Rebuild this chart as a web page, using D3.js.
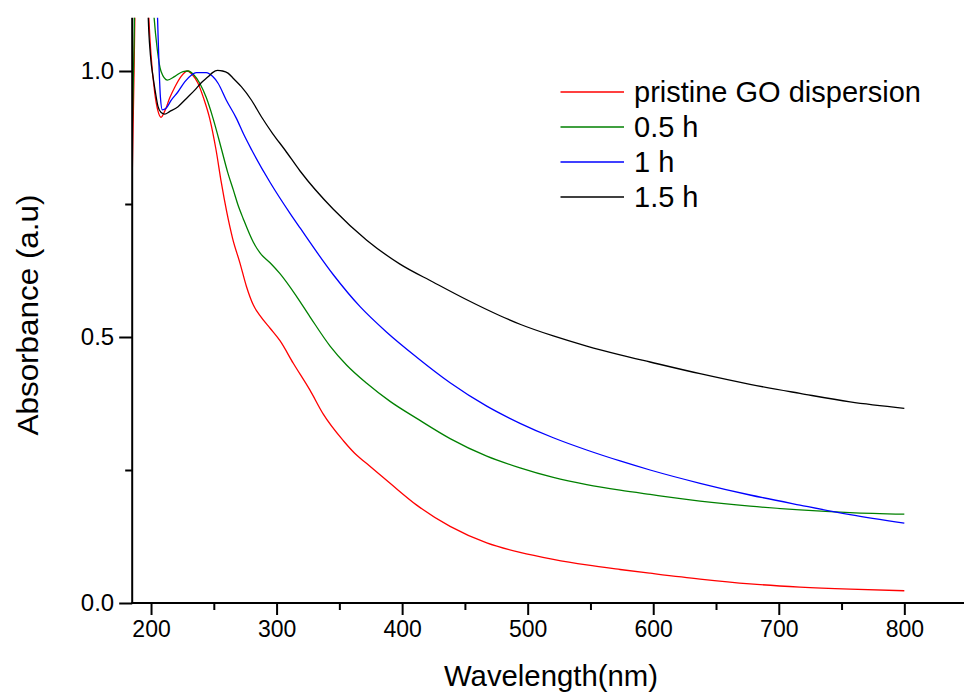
<!DOCTYPE html>
<html>
<head>
<meta charset="utf-8">
<script src="https://cdn.jsdelivr.net/npm/d3@7"></script>
<style>
  html, body { margin: 0; padding: 0; background: #fff; }
  svg { display: block; font-family: Arial, "Liberation Sans", sans-serif; }
</style>
</head>
<body>
<svg id="chart" width="964" height="693"></svg>
<script>
// UV-vis absorbance spectra of GO dispersions, wavelength (nm) vs absorbance (a.u.)
const seriesNames = ["pristine GO dispersion", "0.5 h", "1 h", "1.5 h"];
const seriesColors = ["#ff0000", "#008000", "#0000ff", "#000000"];

const pristineGO = [
  [185,0.80],[186.5,1.0],[188,1.25],[190,1.4],[195,1.4],[198,1.115],[200,1.03],[203,0.958],
  [205.5,0.925],[208,0.913],[211,0.925],[215,0.95],[219,0.97],[224,0.99],[229,1.0],[233,0.993],
  [237.4,0.977],[242,0.948],[246.7,0.911],[251.8,0.8515],[256,0.79],[260.3,0.735],[265,0.685],
  [270.9,0.6385],[276,0.595],[281.5,0.560],[286.8,0.540],[295,0.516],[302.7,0.493],[313.3,0.4506],
  [326.6,0.400],[337.2,0.355],[353.2,0.305],[362,0.282],[371.8,0.262],[390.4,0.225],
  [411.6,0.184],[438.2,0.144],[467.4,0.113],[493.9,0.095],[520.4,0.082],[547,0.0715],
  [573.6,0.063],[597.5,0.056],[637.3,0.045],[677.1,0.036],[716.9,0.030],[756.8,0.026],[800,0.023]
];

const halfHour = [
  [185,0.885],[186.5,1.05],[188,1.3],[191,1.4],[196,1.38],[200,1.2],[202,1.115],[205,1.04],
  [208,0.999],[213,0.983],[219,0.99],[225.5,0.999],[229.5,1.0],[234,0.993],[238.8,0.977],
  [244,0.95],[249.4,0.911],[256.3,0.8515],[261,0.81],[265.6,0.776],[269,0.75],[273.5,0.722],
  [281.5,0.678],[286.8,0.658],[295,0.639],[302.7,0.619],[316,0.576],[326.6,0.538],
  [342.6,0.483],[355.9,0.447],[371.8,0.413],[390.4,0.379],[411.6,0.347],[438.2,0.309],
  [467.4,0.276],[493.9,0.254],[520.4,0.236],[547,0.2225],[573.6,0.212],[597.5,0.204],
  [637.3,0.1915],[677.1,0.182],[716.9,0.175],[756.8,0.170],[800,0.167]
];

const oneHour = [
  [185,1.4],[200,1.4],[203,1.25],[205,1.115],[206.5,1.0],[207.5,0.95],[209,0.927],[212,0.93],
  [216,0.945],[221.5,0.961],[227,0.98],[232,0.992],[236,0.997],[244,0.997],[249,0.99],
  [253.4,0.977],[260,0.945],[268,0.911],[274,0.88],[280.2,0.8515],[295,0.79],[310.7,0.7325],
  [318.7,0.705],[345.2,0.617],[366.5,0.557],[387.7,0.509],[411.6,0.462],[438.2,0.414],
  [467.4,0.370],[493.9,0.3378],[520.4,0.3106],[547,0.2876],[573.6,0.267],[597.5,0.250],
  [637.3,0.225],[677.1,0.203],[716.9,0.184],[756.8,0.166],[800,0.150]
];

const oneAndHalfHour = [
  [185,1.4],[196,1.4],[197.6,1.115],[199.5,1.03],[201.6,0.989],[203.5,0.96],[205.6,0.933],
  [208,0.922],[210.9,0.919],[215,0.924],[221.5,0.933],[228,0.948],[234.8,0.964],[240,0.978],
  [245.4,0.989],[249,0.997],[253,1.001],[257,1.0],[261.3,0.996],[266,0.985],[271.9,0.9705],
  [279.9,0.9455],[287.9,0.914],[297,0.882],[306.7,0.8515],[318.7,0.812],[345.2,0.740],
  [371.8,0.682],[398.3,0.637],[424.9,0.603],[451.5,0.570],[478,0.540],[493.9,0.524],
  [520.4,0.502],[547,0.483],[573.6,0.4665],[597.5,0.453],[637.3,0.431],[677.1,0.411],
  [716.9,0.394],[756.8,0.378],[800,0.366]
];

const xMajorTicks = [200, 300, 400, 500, 600, 700, 800];
const xMinorTicks = [250, 350, 450, 550, 650, 750];
const yMajorTicks = [0.0, 0.5, 1.0];
const yMinorTicks = [0.25, 0.75];

const allSeries = [pristineGO, halfHour, oneHour, oneAndHalfHour];

const svg = d3.select("#chart");

const x = d3.scaleLinear().domain([185, 850]).range([132.2, 967.1]);
const y = d3.scaleLinear().domain([0, 1.1]).range([603, 17.8]);

// clip curves to the plotting area
svg.append("defs").append("clipPath").attr("id", "plotClip")
  .append("rect")
  .attr("x", x(185)).attr("y", y(1.1))
  .attr("width", 964 - x(185)).attr("height", y(0) - y(1.1));

const line = d3.line()
  .x(d => x(d[0]))
  .y(d => y(d[1]))
  .curve(d3.curveMonotoneX);

const plot = svg.append("g").attr("clip-path", "url(#plotClip)");
allSeries.forEach((data, i) => {
  plot.append("path")
    .datum(data)
    .attr("fill", "none")
    .attr("stroke", seriesColors[i])
    .attr("stroke-width", 1.3)
    .attr("stroke-linejoin", "round")
    .attr("d", line);
});

// bottom axis
const xAxis = svg.append("g").attr("transform", `translate(0,${y(0)})`);
xAxis.call(d3.axisBottom(x).tickValues(xMajorTicks).tickSize(12).tickPadding(6).tickFormat(d3.format("d")));
xAxis.append("g").call(d3.axisBottom(x).tickValues(xMinorTicks).tickSize(7).tickFormat(""));
xAxis.selectAll(".domain").remove();
xAxis.append("line")
  .attr("x1", x(185) - 1).attr("x2", 964)
  .attr("stroke", "#000").attr("stroke-width", 2);
xAxis.selectAll(".tick line").attr("stroke", "#000").attr("stroke-width", 2);
xAxis.selectAll(".tick text")
  .attr("font-size", 23)
  .attr("font-family", "Arial, 'Liberation Sans', sans-serif")
  .attr("fill", "#000");

// left axis
const yAxis = svg.append("g").attr("transform", `translate(${x(185)},0)`);
yAxis.call(d3.axisLeft(y).tickValues(yMajorTicks).tickSize(13).tickPadding(5).tickFormat(d3.format(".1f")));
yAxis.append("g").call(d3.axisLeft(y).tickValues(yMinorTicks).tickSize(7).tickFormat(""));
yAxis.selectAll(".domain").remove();
yAxis.append("line")
  .attr("y1", y(0) + 1).attr("y2", y(1.1))
  .attr("stroke", "#000").attr("stroke-width", 2);
yAxis.selectAll(".tick line").attr("stroke", "#000").attr("stroke-width", 2);
yAxis.selectAll(".tick text")
  .attr("font-size", 24)
  .attr("font-family", "Arial, 'Liberation Sans', sans-serif")
  .attr("fill", "#000");

// axis titles
svg.append("text")
  .attr("x", 551).attr("y", 686)
  .attr("text-anchor", "middle")
  .attr("font-size", 29)
  .attr("textLength", 214).attr("lengthAdjust", "spacingAndGlyphs")
  .attr("fill", "#000")
  .text("Wavelength(nm)");

svg.append("text")
  .attr("transform", "translate(38,315) rotate(-90)")
  .attr("text-anchor", "middle")
  .attr("font-size", 29)
  .attr("textLength", 241).attr("lengthAdjust", "spacingAndGlyphs")
  .attr("fill", "#000")
  .text("Absorbance (a.u)");

// legend
const legend = svg.append("g");
seriesNames.forEach((name, i) => {
  const base = 101.5 + i * 35;
  legend.append("line")
    .attr("x1", 560.5).attr("x2", 624)
    .attr("y1", base - 9.5).attr("y2", base - 9.5)
    .attr("stroke", seriesColors[i]).attr("stroke-width", 1.3);
  legend.append("text")
    .attr("x", 634).attr("y", base)
    .attr("font-size", 29)
    .attr("fill", "#000")
    .text(name);
});
</script>
</body>
</html>
